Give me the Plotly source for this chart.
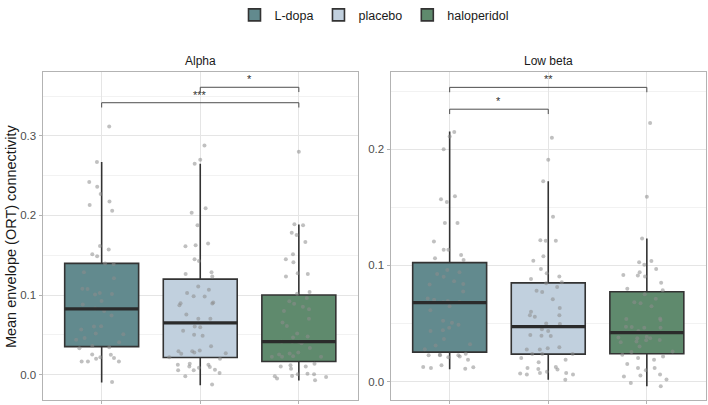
import plotly.graph_objects as go

groups = ["L-dopa", "placebo", "haloperidol"]
colors = ["#628a8e", "#c1d0de", "#5f8a6d"]
panels = ["Alpha", "Low beta"]

# Box statistics per panel: [L-dopa, placebo, haloperidol]
alpha_q1 = [0.0351, 0.0215, 0.0165]
alpha_med = [0.0826, 0.0649, 0.0413]
alpha_q3 = [0.1397, 0.1199, 0.1000]
alpha_lo = [-0.0099, -0.0133, -0.0074]
alpha_hi = [0.267, 0.265, 0.1886]

beta_q1 = [0.0253, 0.0236, 0.0239]
beta_med = [0.0679, 0.0472, 0.0421]
beta_q3 = [0.1024, 0.0850, 0.0773]
beta_lo = [0.0105, 0.0014, -0.0040]
beta_hi = [0.2153, 0.1726, 0.1231]

# Individual observations (jittered points)
alpha_ldopa = [0.3118, 0.267, 0.242, 0.236, 0.227, 0.2175, 0.213, 0.206, 0.1617, 0.1571,
               0.1513, 0.1488, 0.1397, 0.1389, 0.1286, 0.1211, 0.1079, 0.1075, 0.1025, 0.1013,
               0.1005, 0.0926, 0.0880, 0.0831, 0.0798, 0.0744, 0.0607, 0.0603, 0.0566, 0.0516,
               0.0508, 0.0459, 0.0438, 0.0405, 0.0360, 0.0343, 0.0330, 0.0252, 0.0248, 0.0219,
               0.0207, 0.0198, 0.0165, 0.0165, 0.0165, -0.0092]
alpha_placebo = [0.2878, 0.270, 0.265, 0.209, 0.2035, 0.1877, 0.1646, 0.1613, 0.1625, 0.145,
                 0.1427, 0.1286, 0.1265, 0.1232, 0.1108, 0.1066, 0.1025, 0.0984, 0.098, 0.0905,
                 0.0872, 0.0897, 0.0893, 0.0756, 0.0702, 0.0702, 0.0550, 0.0603, 0.0595, 0.0500,
                 0.0487, 0.0356, 0.0302, 0.0294, 0.0294, 0.0261, 0.0269, 0.0277, 0.0219, 0.0198,
                 0.0094, 0.0123, 0.0123, 0.0136, 0.0103, 0.0087, 0.0054, 0.0062, 0.0054, 0.0021,
                 -0.0021, -0.0124]
alpha_halo = [0.280, 0.1877, 0.1889, 0.1753, 0.1782, 0.1666, 0.1513, 0.145, 0.141, 0.1265,
              0.1273, 0.1232, 0.1038, 0.1017, 0.0963, 0.0922, 0.089, 0.082, 0.0852, 0.0798,
              0.0702, 0.0653, 0.0612, 0.0480, 0.0467, 0.0516, 0.0393, 0.0335, 0.0413, 0.0413,
              0.0413, 0.0231, 0.0223, 0.0265, 0.0223, 0.0252, 0.0223, 0.0277, 0.0136, 0.0116,
              0.0103, 0.0074, 0.0103, 0.0012, -0.0021, -0.0050, 0.0004, -0.0071, -0.0017,
              -0.0029, 0.0004]

beta_ldopa = [0.215, 0.211, 0.200, 0.157, 0.1596, 0.1547, 0.1365, 0.1365, 0.1206, 0.1135,
              0.1135, 0.109, 0.1061, 0.1046, 0.0961, 0.0927, 0.0941, 0.0864, 0.0836, 0.0902,
              0.0839, 0.0776, 0.0714, 0.0682, 0.0694, 0.0685, 0.0705, 0.0648, 0.0614, 0.0523,
              0.0441, 0.0489, 0.0463, 0.0435, 0.0506, 0.0367, 0.0321, 0.031, 0.0278, 0.0216,
              0.0225, 0.0225, 0.0231, 0.0239, 0.0225, 0.0208, 0.0188, 0.0125, 0.0117, 0.0139,
              0.0122, 0.011]
beta_placebo = [0.210, 0.191, 0.1726, 0.1419, 0.1217, 0.1212, 0.1212, 0.1078, 0.1041, 0.0970,
                0.0904, 0.0933, 0.0856, 0.0847, 0.0884, 0.0813, 0.0782, 0.077, 0.0708, 0.0634,
                0.060, 0.0557, 0.0571, 0.0571, 0.0495, 0.050, 0.0401, 0.0392, 0.0435, 0.0449,
                0.0395, 0.0287, 0.0276, 0.0296, 0.0276, 0.0236, 0.0236, 0.0236, 0.0202, 0.0165,
                0.0188, 0.0117, 0.0103, 0.0108, 0.0125, 0.0074, 0.0060, 0.0083, 0.0074, 0.0068,
                0.0060, 0.0014]
beta_halo = [0.2227, 0.1592, 0.1231, 0.0970, 0.1006, 0.1027, 0.1038, 0.0904, 0.0918, 0.0913,
             0.0941, 0.0850, 0.0799, 0.0785, 0.0751, 0.0713, 0.0682, 0.0674, 0.0648, 0.0538,
             0.0529, 0.0543, 0.0472, 0.0469, 0.0435, 0.0463, 0.0463, 0.0372, 0.0386, 0.0358,
             0.0378, 0.0355, 0.0344, 0.0372, 0.0338, 0.0301, 0.0259, 0.0253, 0.0202, 0.0231,
             0.0216, 0.0188, 0.0117, 0.0117, 0.0151, 0.0097, 0.0043, 0.0060, 0.0051, 0.0017,
             -0.0012, -0.0040]

# Significance comparisons: (group index a, group index b, y level, label)
alpha_sig = [(1, 2, 0.361, "*"), (0, 2, 0.3416, "***")]
beta_sig = [(0, 2, 0.2534, "**"), (0, 1, 0.2346, "*")]

alpha_range = [-0.032, 0.380]
beta_range = [-0.016, 0.2665]
alpha_ticks = [0.0, 0.1, 0.2, 0.3]
beta_ticks = [0.0, 0.1, 0.2]

panel_data = [
    dict(q1=alpha_q1, med=alpha_med, q3=alpha_q3, lo=alpha_lo, hi=alpha_hi,
         pts=[alpha_ldopa, alpha_placebo, alpha_halo], sig=alpha_sig,
         rng=alpha_range, ticks=alpha_ticks, tip=0.006),
    dict(q1=beta_q1, med=beta_med, q3=beta_q3, lo=beta_lo, hi=beta_hi,
         pts=[beta_ldopa, beta_placebo, beta_halo], sig=beta_sig,
         rng=beta_range, ticks=beta_ticks, tip=0.0042),
]

W, H = 708, 405
box_w = 0.75
dom_x = [[42.5 / W, 358 / W], [390.5 / W, 706 / W]]
dom_y = [(H - 400) / H, (H - 68) / H]

fig = go.Figure()
line_col = "#333333"

for p, pdat in enumerate(panel_data):
    xa = "x" if p == 0 else "x2"
    ya = "y" if p == 0 else "y2"
    for g in range(3):
        xc = g + 1
        fig.add_trace(go.Box(
            x=[xc], q1=[pdat["q1"][g]], median=[pdat["med"][g]], q3=[pdat["q3"][g]],
            lowerfence=[pdat["lo"][g]], upperfence=[pdat["hi"][g]],
            width=box_w, whiskerwidth=0, fillcolor=colors[g],
            line=dict(color=line_col, width=1.6), boxpoints=False,
            name=groups[g], legendgroup=groups[g], showlegend=(p == 0),
            xaxis=xa, yaxis=ya, hoverinfo="skip"))
        # thick median line
        fig.add_trace(go.Scatter(
            x=[xc - box_w / 2, xc + box_w / 2], y=[pdat["med"][g]] * 2,
            mode="lines", line=dict(color="#2b2b2b", width=3.2),
            showlegend=False, xaxis=xa, yaxis=ya, hoverinfo="skip"))
        # jittered points
        fig.add_trace(go.Box(
            x=[xc] * len(pdat["pts"][g]), y=pdat["pts"][g], width=box_w,
            boxpoints="all", jitter=0.95, pointpos=0,
            fillcolor="rgba(0,0,0,0)", line=dict(color="rgba(0,0,0,0)", width=0),
            marker=dict(color="rgba(140,140,140,0.55)", size=4),
            showlegend=False, xaxis=xa, yaxis=ya, hoverinfo="skip"))
    # significance bars
    for (a, b, yl, lab) in pdat["sig"]:
        fig.add_trace(go.Scatter(
            x=[a + 1, a + 1, b + 1, b + 1], y=[yl - pdat["tip"], yl, yl, yl - pdat["tip"]],
            mode="lines", line=dict(color="#4d4d4d", width=1),
            showlegend=False, xaxis=xa, yaxis=ya, hoverinfo="skip"))
        fig.add_annotation(x=(a + b) / 2 + 1, y=yl, xref=xa, yref=ya, text=lab,
                           showarrow=False, xanchor="center", yanchor="bottom", yshift=0,
                           font=dict(size=11, color="#333333"))

axis_common = dict(showline=True, mirror=True, linecolor="#b3b3b3", linewidth=1,
                   gridcolor="#e5e5e5", gridwidth=1, zeroline=False,
                   ticks="outside", ticklen=3, tickcolor="#b3b3b3",
                   tickfont=dict(family="Liberation Sans, Arial", size=11.5, color="#4d4d4d"))

for p, pdat in enumerate(panel_data):
    sfx = "" if p == 0 else "2"
    fig.update_layout(**{
        "xaxis" + sfx: dict(axis_common, domain=dom_x[p], range=[0.4, 3.6],
                            tickvals=[1, 2, 3], showticklabels=False,
                            anchor="y" + sfx, fixedrange=True),
        "yaxis" + sfx: dict(axis_common, domain=dom_y, range=pdat["rng"],
                            tickvals=pdat["ticks"], ticktext=[f"{t:.1f}" for t in pdat["ticks"]],
                            anchor="x" + sfx,
                            minor=dict(dtick=0.05, showgrid=True, gridcolor="#f2f2f2",
                                       gridwidth=1, ticks="")),
    })
    fig.add_annotation(x=(dom_x[p][0] + dom_x[p][1]) / 2, y=(H - 57) / H,
                       xref="paper", yref="paper", text=panels[p], showarrow=False,
                       xanchor="center", yanchor="middle",
                       font=dict(family="Liberation Sans, Arial", size=12, color="#1a1a1a"))

fig.add_annotation(x=11 / W, y=(dom_y[0] + dom_y[1]) / 2, xref="paper", yref="paper",
                   text="Mean envelope (ORT) connectivity", textangle=-90, showarrow=False,
                   xanchor="center", yanchor="middle",
                   font=dict(family="Liberation Sans, Arial", size=14.5, color="#1a1a1a"))

fig.update_layout(
    width=W, height=H, margin=dict(l=0, r=0, t=0, b=0),
    paper_bgcolor="white", plot_bgcolor="white",
    boxmode="overlay",
    font=dict(family="Liberation Sans, Arial"),
    legend=dict(orientation="h", x=374 / W, xanchor="center", y=1.012, yanchor="top",
                font=dict(size=12.5, color="#1a1a1a"), itemwidth=30,
                bgcolor="rgba(0,0,0,0)"),
)

fig.write_html("out.html")
